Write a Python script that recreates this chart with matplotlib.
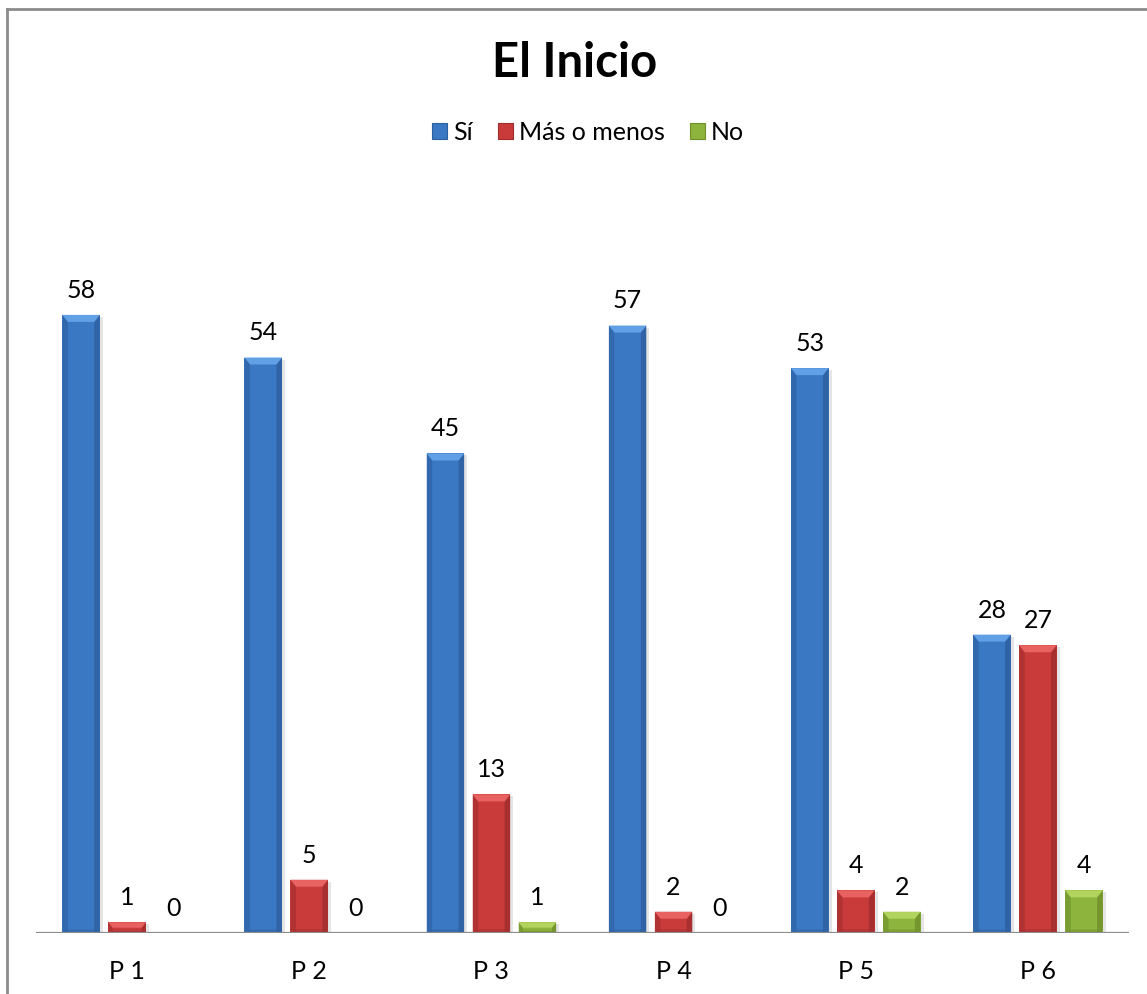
import matplotlib
matplotlib.use("Agg")
import matplotlib.pyplot as plt
from matplotlib.patches import Patch, Polygon, Rectangle
from matplotlib.lines import Line2D
import numpy as np

plt.rcParams['font.family'] = ['Lato', 'DejaVu Sans']

categories = ["P 1", "P 2", "P 3", "P 4", "P 5", "P 6"]
series_names = ["Sí", "Más o menos", "No"]
si = [58, 54, 45, 57, 53, 28]
mas_o_menos = [1, 5, 13, 2, 4, 27]
no = [0, 0, 1, 0, 2, 4]
title = "El Inicio"

# base, top-bevel (light), side-bevel (dark) colours per series
palette = [
    ("#3B78C4", "#62A0E6", "#2D5E9E"),
    ("#C93B3B", "#E86262", "#A02C2C"),
    ("#8DB43C", "#B2D45E", "#6E8F2A"),
]

W, H, DPI = 1147, 995, 100
fig = plt.figure(figsize=(W / DPI, H / DPI), dpi=DPI)
fig.patch.set_facecolor("white")

ax_left, ax_right, ax_bottom, ax_top = 36, 1129, 934, 188
ax = fig.add_axes([ax_left / W, 1 - ax_bottom / H,
                   (ax_right - ax_left) / W, (ax_bottom - ax_top) / H])
ax.set_xlim(-0.5, len(categories) - 0.5)
ax.set_ylim(0, 70)
for s in ax.spines.values():
    s.set_visible(False)
ax.set_yticks([])
ax.axhline(0, color="#8C8C8C", lw=1.6, zorder=5)

x = np.arange(len(categories))
step, width = 0.2525, 0.206
offsets = [-step, 0.0, step]

# pixel -> data conversion factors for bevel geometry
px_x = (ax.get_xlim()[1] - ax.get_xlim()[0]) / (ax_right - ax_left)
px_y = (ax.get_ylim()[1] - ax.get_ylim()[0]) / (ax_bottom - ax_top)
bev_px = 7.0

for values, off, (base, light, dark) in zip([si, mas_o_menos, no], offsets, palette):
    bars = ax.bar(x + off, values, width, color=base, zorder=3, linewidth=0)
    for b, v in zip(bars, values):
        if v <= 0:
            continue
        x0, x1 = b.get_x(), b.get_x() + b.get_width()
        top = b.get_height()
        bp = min(bev_px, top / px_y / 2.0)
        bx, by = bp * px_x * 0.8, bp * px_y
        # soft shadow to the right
        ax.add_patch(Rectangle((x1, 0), 3 * px_x, top - 2 * px_y,
                               facecolor="#000000", alpha=0.10, lw=0, zorder=2))
        # side bevels
        ax.add_patch(Polygon([(x0, 0), (x0, top), (x0 + bx, top - by), (x0 + bx, 0)],
                             closed=True, facecolor=dark, alpha=0.6, lw=0, zorder=4))
        ax.add_patch(Polygon([(x1, 0), (x1, top), (x1 - bx, top - by), (x1 - bx, 0)],
                             closed=True, facecolor=dark, alpha=0.8, lw=0, zorder=4))
        # top bevel
        ax.add_patch(Polygon([(x0, top), (x1, top), (x1 - bx, top - by), (x0 + bx, top - by)],
                             closed=True, facecolor=light, lw=0, zorder=4))
        # bottom edge
        ax.add_patch(Polygon([(x0, 0), (x1, 0), (x1 - bx, by * 0.5), (x0 + bx, by * 0.5)],
                             closed=True, facecolor=dark, alpha=0.5, lw=0, zorder=4))
    for b, v in zip(bars, values):
        ax.annotate(f"{v}", (b.get_x() + b.get_width() / 2, v),
                    xytext=(0, 13), textcoords="offset points",
                    ha="center", va="baseline", fontsize=18, color="black", zorder=6)

ax.set_xticks(x + offsets[1])
ax.set_xticklabels(categories, fontsize=18)
ax.tick_params(axis="x", length=0, pad=19)

fig.text(575 / W, 1 - 77 / H, title, ha="center", va="baseline",
         fontsize=34, fontweight="bold")

handles = [Patch(facecolor=c[0], edgecolor=c[2], linewidth=0.8) for c in palette]
fig.legend(handles, series_names, loc="center", bbox_to_anchor=(588 / W, 1 - 133 / H),
           ncol=3, frameon=False, fontsize=18, handlelength=0.6, handleheight=0.6,
           handletextpad=0.25, columnspacing=1.0)

# chart-area frame
frame_color = "#8C8C8C"
fig.add_artist(Line2D([7 / W, 7 / W], [1 - 10 / H, 0], transform=fig.transFigure,
                      color=frame_color, lw=2))
fig.add_artist(Line2D([7 / W, 1], [1 - 10 / H, 1 - 10 / H], transform=fig.transFigure,
                      color=frame_color, lw=2))

fig.savefig("out.png", dpi=DPI)
